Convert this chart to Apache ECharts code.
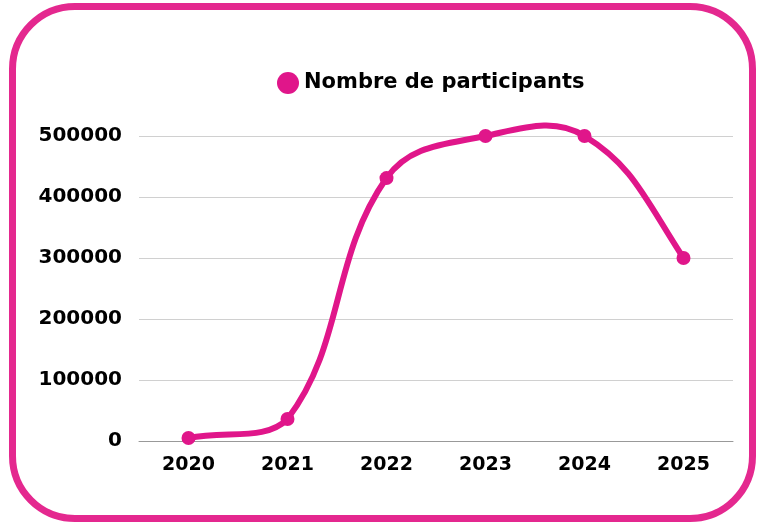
<!DOCTYPE html>
<html>
<head>
<meta charset="utf-8">
<script src="https://cdn.jsdelivr.net/npm/echarts@6/dist/echarts.min.js"></script>
<style>
	html, body { margin: 0; padding: 0; background: #fff; }
	#frame {
		position: absolute; left: 9px; top: 3px;
		width: 733px; height: 505px;
		border: 7px solid #e4288f; border-radius: 66px;
	}
	#chart { position: absolute; left: 0; top: 0; width: 763px; height: 524px; }
</style>
</head>
<body>
<div id="frame"></div>
<div id="chart"></div>
<script>
var years = ['2020', '2021', '2022', '2023', '2024', '2025'];
var participants = [5000, 36000, 431000, 500000, 500000, 300000];
var seriesName = 'Nombre de participants';

var pink = '#e0168a';
var font = '"DejaVu Sans", sans-serif';

var myChart = echarts.init(document.getElementById('chart'));

// distance weighted spline (tension 0.4) through the pixel points from the axes
function splinePath(pts, bottom) {
	var t = 0.4;
	var cps = pts.map(function(p1, i) {
		var p0 = pts[i - 1] || p1;
		var p2 = pts[i + 1] || p1;
		var d01 = Math.hypot(p1[0] - p0[0], p1[1] - p0[1]);
		var d12 = Math.hypot(p2[0] - p1[0], p2[1] - p1[1]);
		var s01 = d01 / (d01 + d12) || 0;
		var s12 = d12 / (d01 + d12) || 0;
		var fa = t * s01, fb = t * s12;
		var dx = p2[0] - p0[0], dy = p2[1] - p0[1];
		return {
			prev: [p1[0] - fa * dx, Math.min(bottom, p1[1] - fa * dy)],
			next: [p1[0] + fb * dx, Math.min(bottom, p1[1] + fb * dy)]
		};
	});
	// last point: bend the end tangent so the final segment keeps one curvature
	var n = pts.length - 1;
	var pa = pts[n - 1], pb = pts[n], ca = cps[n - 1].next;
	var chord = (pb[1] - pa[1]) / (pb[0] - pa[0]);
	var tan0 = (ca[1] - pa[1]) / (ca[0] - pa[0]);
	var slope = 1.5 * chord - 0.5 * tan0;
	var w = t * (pb[0] - pa[0]);
	cps[n].prev = [pb[0] - w, pb[1] - w * slope];

	var d = 'M' + pts[0][0] + ' ' + pts[0][1];
	for (var i = 0; i < n; i++) {
		var a = cps[i].next, b = cps[i + 1].prev, p = pts[i + 1];
		d += ' C' + a[0] + ' ' + a[1] + ' ' + b[0] + ' ' + b[1] + ' ' + p[0] + ' ' + p[1];
	}
	return d;
}

var option = {
	animation: false,
	textStyle: { fontFamily: font },
	legend: {
		top: 67,
		left: 272,
		icon: 'circle',
		itemWidth: 22,
		itemHeight: 22,
		itemGap: 11,
		textStyle: { fontSize: 21, fontWeight: 'bold', color: '#000', fontFamily: font, padding: [0, 0, 3, 0] },
		data: [seriesName]
	},
	grid: {
		left: 139,
		right: 30,
		top: 136,
		bottom: 83
	},
	xAxis: {
		type: 'category',
		data: years,
		axisLine: { lineStyle: { color: '#999', width: 1 } },
		axisTick: { show: false },
		axisLabel: { fontSize: 19, fontWeight: 'bold', color: '#000', margin: 15 }
	},
	yAxis: {
		type: 'value',
		min: 0,
		max: 500000,
		interval: 100000,
		axisLine: { show: false },
		axisTick: { show: false },
		splitLine: { lineStyle: { color: '#d0d0d0' } },
		axisLabel: {
			fontSize: 20, fontWeight: 'bold', color: '#000', margin: 17,
			padding: [3, 0, 0, 0],
			formatter: function(v) { return String(v); }
		}
	},
	series: [{
		type: 'custom',
		silent: true,
		data: participants.map(function(v, i) { return [i, v]; }),
		renderItem: function(params, api) {
			if (params.dataIndex !== 0) return;
			var pts = participants.map(function(v, i) { return api.coord([i, v]); });
			var bottom = api.coord([0, 0])[1];
			return {
				type: 'path',
				shape: { pathData: splinePath(pts, bottom) },
				style: { fill: null, stroke: pink, lineWidth: 6 }
			};
		}
	}, {
		name: seriesName,
		type: 'line',
		data: participants,
		symbol: 'circle',
		symbolSize: 14,
		lineStyle: { opacity: 0 },
		itemStyle: { color: pink },
		z: 3
	}]
};

myChart.setOption(option);
</script>
</body>
</html>
